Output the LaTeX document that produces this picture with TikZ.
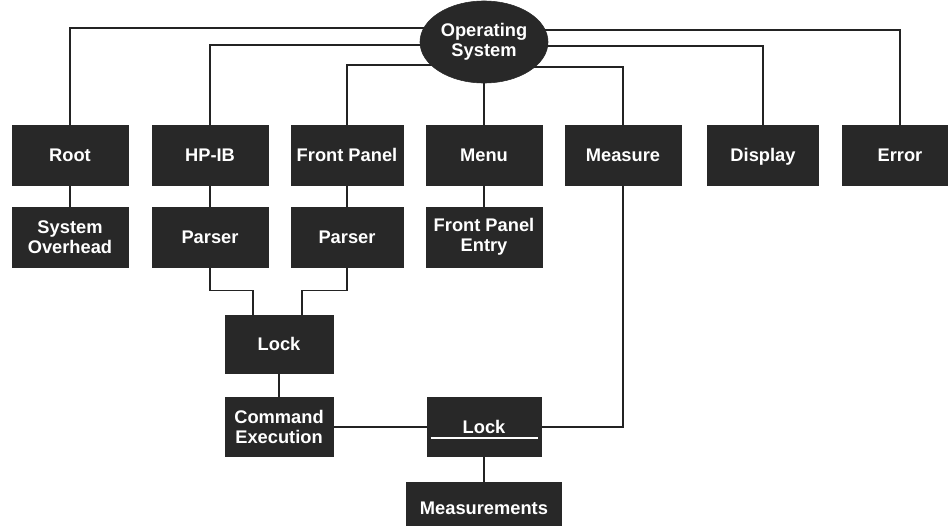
\documentclass[tikz,border=0pt]{standalone}
\usepackage{fontspec}
\setsansfont{Liberation Sans}
\definecolor{BoxGray}{RGB}{40,40,40}
\definecolor{WireGray}{RGB}{35,35,35}
\usetikzlibrary{calc,backgrounds,shapes.geometric}
\tikzset{
  blk/.style={draw=BoxGray,fill=BoxGray,text=white,minimum width=2.9cm,minimum height=1.5cm,
              inner sep=1pt,align=center,font=\sffamily\bfseries\fontsize{13}{14.2}\selectfont},
  wire/.style={draw=WireGray,line width=0.9pt}
}

\begin{document}
\begin{tikzpicture}[x=0.025cm,y=-0.025cm]
    \useasboundingbox (0,0) rectangle (948,526);
    \node[blk,ellipse,minimum width=3.2cm,minimum height=2.05cm] (os) at (484,42) {Operating\\System};
    % first row
    \node[blk] (root) at (70,155) {Root};
    \node[blk] (hpib) at (210,155) {HP-IB};
    \node[blk,minimum width=2.8cm] (fpanel) at (347,155) {Front Panel};
    \node[blk] (menu) at (484,155) {Menu};
    \node[blk] (measure) at (623,155) {Measure};
    \node[blk,minimum width=2.78cm,text depth=0pt] (display) at (763,155) {Display};
    \node[blk] (error) at (900,155) {Error};
    % second row
    \node[blk] (sysover) at (70,237) {System\\Overhead};
    \node[blk] (hparser) at (210,237) {Parser};
    \node[blk,minimum width=2.8cm] (fparser) at (347,237) {Parser};
    \node[blk] (fpentry) at (484,237) {Front Panel\\Entry};
    % command and measurement paths
    \node[blk,minimum width=2.7cm,minimum height=1.45cm] (lockc) at (279,344) {Lock};
    \node[blk,minimum width=2.7cm,minimum height=1.48cm] (cmdexec) at (279,427) {Command\\Execution};
    \node[blk,minimum width=2.85cm,minimum height=1.48cm] (lockm) at (484,427) {Lock};
    \node[blk,minimum width=3.88cm,minimum height=1.3cm] (meas) at (484,508) {Measurements};
    \draw[white,line width=0.8pt] ($(lockm.west)+(4,11)$) -- ($(lockm.east)+(-3,11)$);

    \begin{scope}[on background layer]
      \draw[wire] ($(os)+(0,-14)$) -| (root.north);
      \draw[wire] ($(os)+(0,-12)$) -| (error.north);
      \draw[wire] ($(os)+(0,3)$) -| (hpib.north);
      \draw[wire] ($(os)+(0,4)$) -| (display.north);
      \draw[wire] ($(os)+(0,23)$) -| (fpanel.north);
      \draw[wire] ($(os)+(0,25)$) -| (measure.north);
      \draw[wire] (os) -- (menu);
      \draw[wire] (root) -- (sysover);
      \draw[wire] (hpib) -- (hparser);
      \draw[wire] (fpanel) -- (fparser);
      \draw[wire] (menu) -- (fpentry);
      \draw[wire] (hparser.south) -- ++(0,23) -| ($(lockc.north)+(-26,0)$);
      \draw[wire] (fparser.south) -- ++(0,23) -| ($(lockc.north)+(23,0)$);
      \draw[wire] (lockc) -- (cmdexec);
      \draw[wire] (cmdexec) -- (lockm);
      \draw[wire] (measure.south) |- (lockm.east);
      \draw[wire] (lockm) -- (meas);
    \end{scope}
\end{tikzpicture}
\end{document}
